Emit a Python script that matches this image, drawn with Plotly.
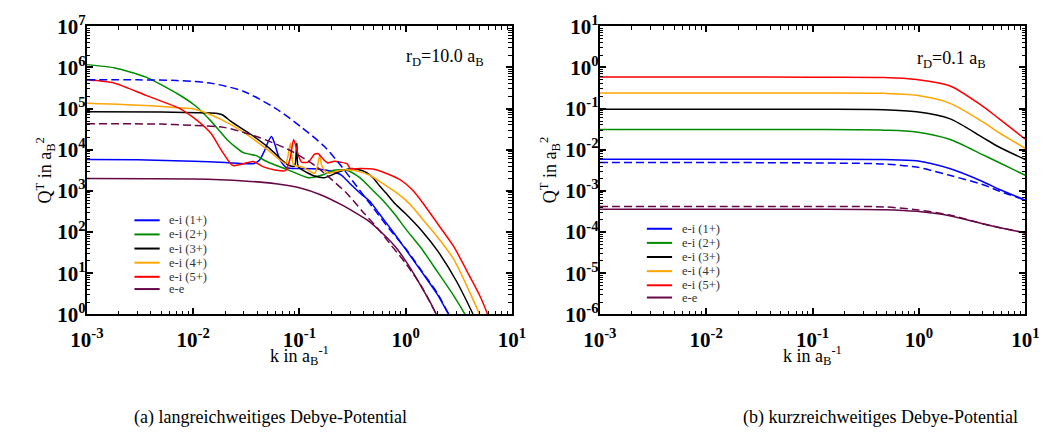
import plotly.graph_objects as go

W, H = 1051, 448

# ---------------- data: left panel (r_D = 10.0 a_B) ----------------
K_EI1 = [0.001, 0.003, 0.01, 0.02, 0.03, 0.037, 0.042, 0.047, 0.051, 0.0547, 0.058, 0.062, 0.067, 0.074,
         0.085, 0.1, 0.15, 0.2, 0.25, 0.3, 0.38, 0.46, 0.565, 0.8, 1.0, 1.41, 2.0, 2.55, 2.8]
Q_EI1 = [5800, 5700, 5300, 4900, 4600, 4600, 5600, 9500, 16000, 21000, 15000, 8500, 5200, 3800,
         3500, 3500, 3400, 3000, 2400, 1500, 850, 560, 280, 85, 38, 11, 3.0, 1.0, 0.7]

K_EI1_D = [0.001, 0.003, 0.007, 0.015, 0.03, 0.06, 0.105, 0.172, 0.244, 0.346, 0.49, 0.7, 1.0, 1.41, 2.0,
           2.55, 2.8]
Q_EI1_D = [5.0e5, 5.0e5, 4.8e5, 4.1e5, 2.6e5, 1.0e5, 3.5e4, 1.2e4, 4200, 1300, 400, 120, 40, 11.5, 3.2,
           1.0, 0.7]

K_EI2 = [0.001, 0.0018, 0.0036, 0.0073, 0.0104, 0.0148, 0.021, 0.0297, 0.0394, 0.047, 0.06, 0.0794, 0.121,
         0.17, 0.21, 0.28, 0.37, 0.49, 0.6, 0.8, 1.0, 1.41, 2.0, 2.8, 3.62, 4.0]
Q_EI2 = [1.17e6, 9.8e5, 5.8e5, 2.2e5, 1.19e5, 4.9e4, 1.73e4, 8.5e3, 7.2e3, 5.5e3, 4.2e3, 3.2e3, 2.1e3,
         2.5e3, 3.2e3, 3.2e3, 2.1e3, 1.04e3, 620, 260, 120, 40, 10.7, 3.0, 1.0, 0.6]

K_EI3 = [0.001, 0.005, 0.0148, 0.017, 0.019, 0.0225, 0.0285, 0.0342, 0.052, 0.069, 0.0794, 0.09, 0.0935,
         0.0946, 0.097, 0.105, 0.139, 0.172, 0.244, 0.31, 0.38, 0.43, 0.5, 0.565, 0.65, 0.8, 1.0, 1.41,
         2.0, 3.0, 4.32, 4.8]
Q_EI3 = [8.4e4, 8.3e4, 7.8e4, 7.6e4, 7.0e4, 4.95e4, 3.3e4, 2.45e4, 1.1e4, 5.5e3, 4.2e3, 4.0e3, 1.0e4,
         1.45e4, 4.0e3, 3.3e3, 2.3e3, 2.1e3, 3.0e3, 3.5e3, 3.2e3, 2.8e3, 2.0e3, 1.35e3, 900, 480, 280, 110,
         35, 6.5, 1.0, 0.55]

K_EI4 = [0.001, 0.0036, 0.0073, 0.0097, 0.0148, 0.0225, 0.0342, 0.052, 0.074, 0.078, 0.0822, 0.0855,
         0.0882, 0.105, 0.139, 0.148, 0.155, 0.163, 0.184, 0.244, 0.322, 0.46, 0.61, 0.8, 1.0, 1.2, 1.41,
         2.0, 2.83, 4.0, 4.97, 5.5]
Q_EI4 = [1.35e5, 1.19e5, 1.05e5, 1.0e5, 7.0e4, 4.15e4, 2.1e4, 9.3e3, 4.6e3, 7.0e3, 1.45e4, 6.0e3,
         4.2e3, 3.9e3, 2.7e3, 4.0e3, 7.2e3, 4.0e3, 2.7e3, 3.2e3, 3.2e3, 2.4e3, 1.5e3, 950, 600, 370, 220,
         75, 22, 3.5, 1.0, 0.5]

K_EI5 = [0.001, 0.0018, 0.0036, 0.0075, 0.0111, 0.0148, 0.0182, 0.0225, 0.0241, 0.0297, 0.0367, 0.0453,
         0.06, 0.074, 0.0822, 0.0882, 0.098, 0.105, 0.121, 0.139, 0.149, 0.172, 0.184, 0.213, 0.244, 0.28,
         0.301, 0.37, 0.49, 0.65, 0.85, 1.0, 1.2, 1.41, 2.0, 2.83, 4.0, 5.0, 5.91, 6.5]
Q_EI5 = [5.0e5, 4.2e5, 2.1e5, 1.0e5, 4.95e4, 2.45e4, 1.02e4, 4.6e3, 4.1e3, 4.6e3, 5.2e3, 3.9e3,
         3.2e3, 3.1e3, 6.5e3, 1.77e4, 7.2e3, 5.0e3, 5.0e3, 7.8e3, 8.1e3, 5.5e3, 4.8e3, 5.3e3, 5.0e3, 4.6e3,
         3.5e3, 3.5e3, 3.4e3, 2.7e3, 2.0e3, 1.5e3, 950, 560, 160, 45, 8.5, 2.8, 1.0, 0.5]

K_EE = [0.001, 0.01, 0.03, 0.06, 0.1, 0.16, 0.25, 0.32, 0.43, 0.6, 0.8, 1.0, 1.2, 1.41, 1.7, 1.95, 2.15]
Q_EE = [2000, 1950, 1750, 1500, 1200, 800, 460, 320, 200, 95, 44, 20, 9.5, 4.6, 2.0, 1.0, 0.67]

K_EE_D = [0.001, 0.005, 0.01, 0.0195, 0.0394, 0.0794, 0.139, 0.184, 0.28, 0.40, 0.55, 0.7, 0.99, 1.41,
          1.95, 2.15]
Q_EE_D = [4.3e4, 4.2e4, 3.9e4, 3.5e4, 2.1e4, 1.0e4, 4.2e3, 2.3e3, 870, 300, 120, 55, 18, 4.8, 1.0, 0.67]

# ---------------- data: right panel (r_D = 0.1 a_B) ----------------
K_R = [0.001, 0.01, 0.1, 0.47, 0.95, 1.94, 3.96, 5.65, 10]
Q_R_EI1 = [0.0059, 0.0059, 0.0059, 0.0058, 0.0054, 0.0035, 0.0017, 0.0011, 0.0006]
Q_R_EI1_D = [0.0049, 0.0049, 0.0048, 0.0045, 0.0038, 0.0024, 0.00144, 0.001, 0.0006]
Q_R_EI2 = [0.031, 0.031, 0.031, 0.030, 0.0272, 0.018, 0.0076, 0.0049, 0.0024]
Q_R_EI3 = [0.096, 0.096, 0.096, 0.094, 0.0835, 0.057, 0.02, 0.0117, 0.0058]
Q_R_EI4 = [0.24, 0.24, 0.24, 0.235, 0.21, 0.136, 0.048, 0.026, 0.0108]
Q_R_EI5 = [0.585, 0.585, 0.58, 0.57, 0.51, 0.36, 0.115, 0.057, 0.018]
Q_R_EE = [0.00036, 0.00036, 0.00036, 0.00035, 0.00032, 0.00025, 0.00016, 0.00013, 0.000095]
Q_R_EE_D = [0.00042, 0.00042, 0.00042, 0.00041, 0.00035, 0.00026, 0.00016, 0.00013, 0.000095]

NAMES = ["e-i (1+)", "e-i (2+)", "e-i (3+)", "e-i (4+)", "e-i (5+)", "e-e"]
COLORS = ["#0000ff", "#008b00", "#000000", "#ffa500", "#ff0000", "#670748"]

X_DECADES = (-3, 1)
Y_DECADES_L = (0, 7)
Y_DECADES_R = (-6, 1)

# ---------------- figure ----------------
fx = lambda px: px / W
fy = lambda py: 1 - py / H

fig = go.Figure()

left_solid = [(K_EI1, Q_EI1), (K_EI2, Q_EI2), (K_EI3, Q_EI3), (K_EI4, Q_EI4), (K_EI5, Q_EI5), (K_EE, Q_EE)]
left_dash = [(K_EI1_D, Q_EI1_D, COLORS[0]), (K_EE_D, Q_EE_D, COLORS[5])]
right_solid = [Q_R_EI1, Q_R_EI2, Q_R_EI3, Q_R_EI4, Q_R_EI5, Q_R_EE]
right_dash = [(Q_R_EI1_D, COLORS[0]), (Q_R_EE_D, COLORS[5])]

for (k, q), name, c in zip(left_solid, NAMES, COLORS):
    fig.add_trace(go.Scatter(x=k, y=q, mode="lines", name=name, showlegend=False,
                             line=dict(color=c, width=1.5, shape="spline", smoothing=0.6),
                             xaxis="x", yaxis="y"))
for k, q, c in left_dash:
    fig.add_trace(go.Scatter(x=k, y=q, mode="lines", showlegend=False,
                             line=dict(color=c, width=1.5, dash="8px,4px", shape="spline", smoothing=0.8),
                             xaxis="x", yaxis="y"))
for q, name, c in zip(right_solid, NAMES, COLORS):
    fig.add_trace(go.Scatter(x=K_R, y=q, mode="lines", name=name, showlegend=False,
                             line=dict(color=c, width=1.5, shape="spline", smoothing=0.8),
                             xaxis="x2", yaxis="y2"))
for q, c in right_dash:
    fig.add_trace(go.Scatter(x=K_R, y=q, mode="lines", showlegend=False,
                             line=dict(color=c, width=1.5, dash="8px,4px", shape="spline", smoothing=0.8),
                             xaxis="x2", yaxis="y2"))


def log_axis(lo, hi, domain, anchor, standoff):
    vals = [10.0 ** e for e in range(lo, hi + 1)]
    text = [f"10<sup>{e}</sup>" for e in range(lo, hi + 1)]
    minor_vals = [m * 10.0 ** e for e in range(lo, hi) for m in range(2, 10)]
    eps = 0.0005
    return dict(type="log", range=[lo - eps, hi + eps], domain=domain, anchor=anchor,
                tickmode="array", tickvals=vals, ticktext=text,
                ticks="inside", ticklen=6, tickwidth=1.5, tickcolor="black",
                ticklabelstandoff=standoff, ticklabeloverflow="allow",
                minor=dict(tickmode="array", tickvals=minor_vals, ticks="inside", ticklen=3.5,
                           tickwidth=1, tickcolor="black", showgrid=False),
                showline=True, linewidth=2, linecolor="black", mirror="ticks",
                showgrid=False, zeroline=False,
                tickfont=dict(family="Liberation Serif", size=21, color="black", weight="bold"))


YD = [fy(319), fy(13)]
fig.update_layout(
    width=W, height=H, margin=dict(l=0, r=0, t=0, b=0),
    paper_bgcolor="white", plot_bgcolor="white", showlegend=False,
    xaxis=log_axis(*X_DECADES, [fx(72), fx(510)], "y", 5),
    yaxis=log_axis(*Y_DECADES_L, YD, "x", -5),
    xaxis2=log_axis(*X_DECADES, [fx(600.5), fx(1039)], "y2", 5),
    yaxis2=log_axis(*Y_DECADES_R, YD, "x2", -5),
)

ann = []
shapes = []
serif = "Liberation Serif"

# axis titles
for xc, ytx in [(291, 29), (819.5, 549)]:
    ann.append(dict(x=fx(xc), y=fy(363), xref="paper", yref="paper", showarrow=False,
                    text="k in a<sub>B</sub><sup>-1</sup>", xanchor="center", yanchor="middle",
                    font=dict(family=serif, size=18, color="black")))
    ann.append(dict(x=fx(ytx), y=fy(166), xref="paper", yref="paper", showarrow=False,
                    text="Q<sup>T</sup> in a<sub>B</sub><sup>2</sup>", textangle=-90,
                    xanchor="center", yanchor="middle",
                    font=dict(family=serif, size=18, color="black")))

# r_D labels
ann.append(dict(x=fx(399), y=fy(46), xref="paper", yref="paper", showarrow=False, xanchor="left",
                yanchor="middle", text="r<sub>D</sub>=10.0 a<sub>B</sub>",
                font=dict(family=serif, size=18, color="black")))
ann.append(dict(x=fx(925), y=fy(48), xref="paper", yref="paper", showarrow=False, xanchor="left",
                yanchor="middle", text="r<sub>D</sub>=0.1 a<sub>B</sub>",
                font=dict(family=serif, size=18, color="black")))

# legends (drawn manually)
legend_specs = [
    (121, 147, 155, [219, 234, 249, 264, 279, 292]),
    (649, 675, 683, [228, 243, 258, 273, 288, 301]),
]
for x0, x1, xt, rows in legend_specs:
    for name, c, yr in zip(NAMES, COLORS, rows):
        shapes.append(dict(type="line", xref="paper", yref="paper", x0=fx(x0), x1=fx(x1),
                           y0=fy(yr), y1=fy(yr), line=dict(color=c, width=2)))
        ann.append(dict(x=fx(xt), y=fy(yr), xref="paper", yref="paper", showarrow=False,
                        xanchor="left", yanchor="middle", text=name,
                        font=dict(family=serif, size=12.5, color="#333333")))

# captions
ann.append(dict(x=fx(261), y=fy(428), xref="paper", yref="paper", showarrow=False,
                text="(a) langreichweitiges Debye-Potential", xanchor="center", yanchor="middle",
                font=dict(family=serif, size=18, color="black")))
ann.append(dict(x=fx(890), y=fy(428), xref="paper", yref="paper", showarrow=False,
                text="(b) kurzreichweitiges Debye-Potential", xanchor="center", yanchor="middle",
                font=dict(family=serif, size=18, color="black")))

fig.update_layout(annotations=ann, shapes=shapes)
fig.write_html("out.html")
